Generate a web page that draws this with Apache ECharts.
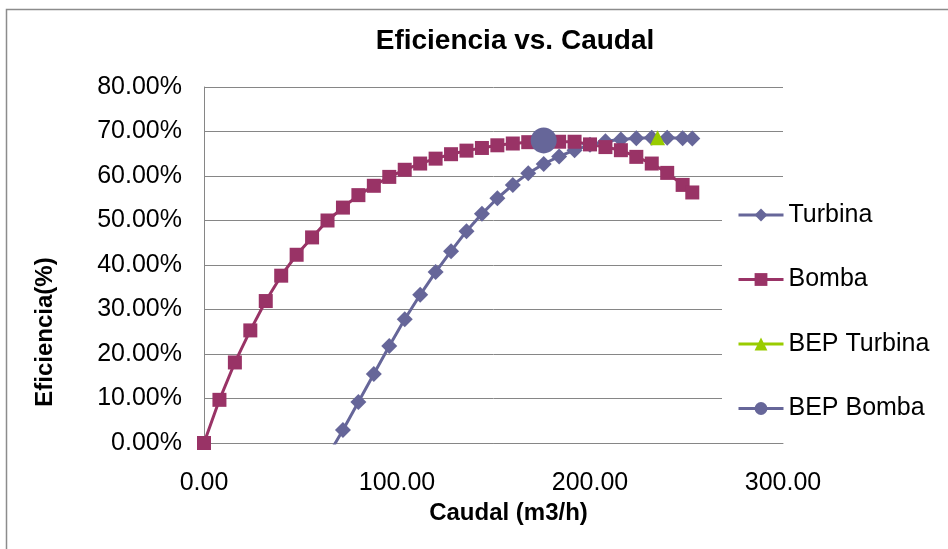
<!DOCTYPE html>
<html><head><meta charset="utf-8">
<script src="https://cdn.jsdelivr.net/npm/echarts@6/dist/echarts.min.js"></script>
<style>html,body{margin:0;padding:0;background:#fff}#c{width:948px;height:549px}</style>
</head><body><div id="c"></div>
<script>
const titleText = 'Eficiencia vs. Caudal';
const xName = 'Caudal (m3/h)';
const yName = 'Eficiencia(%)';
const seriesNames = ['Turbina', 'Bomba', 'BEP Turbina', 'BEP Bomba'];

const turbinaX = [64, 72, 80, 88, 96, 104, 112, 120, 128, 136, 144, 152, 160, 168, 176, 184, 192, 200, 208, 216, 224, 232, 240, 248, 253];
const turbinaY = [-3.0, 2.9, 9.2, 15.5, 21.8, 27.8, 33.3, 38.4, 43.1, 47.6, 51.5, 55.0, 58.0, 60.6, 62.7, 64.4, 65.8, 67.0, 67.8, 68.2, 68.5, 68.6, 68.6, 68.5, 68.4];

const bombaX = [0, 8, 16, 24, 32, 40, 48, 56, 64, 72, 80, 88, 96, 104, 112, 120, 128, 136, 144, 152, 160, 168, 176, 184, 192, 200, 208, 216, 224, 232, 240, 248, 253];
const bombaY = [0, 9.7, 18.1, 25.3, 31.9, 37.6, 42.3, 46.2, 50.0, 52.9, 55.7, 57.8, 59.8, 61.4, 62.8, 63.9, 64.9, 65.7, 66.3, 66.9, 67.3, 67.6, 67.8, 67.7, 67.7, 67.1, 66.5, 65.8, 64.3, 62.8, 60.7, 58.0, 56.3];

const bepTurbinaX = [235];
const bepTurbinaY = [68.6];
const bepBombaX = [176];
const bepBombaY = [68.0];

const FONT = '"Liberation Sans", Arial, sans-serif';
const pair = (xs, ys) => xs.map((x, i) => [x, ys[i]]);

const chart = echarts.init(document.getElementById('c'), null, {renderer: 'canvas'});
chart.setOption({
  animation: false,
  backgroundColor: '#fff',
  textStyle: {fontFamily: FONT},
  graphic: [{
    type: 'rect', left: 4, top: 7, z: -10, silent: true,
    shape: {width: 980, height: 580},
    style: {fill: 'none', stroke: '#8c8c8c', lineWidth: 1.5}
  }],
  title: {
    text: titleText, left: 515, top: 27, textAlign: 'center', padding: 0,
    textStyle: {fontFamily: FONT, fontSize: 28, fontWeight: 'bold', color: '#000'}
  },
  grid: {left: 204, right: 165, top: 87, bottom: 106, containLabel: false},
  legend: {
    orient: 'vertical', left: 722, top: 195,
    padding: [7, 10, 9, 15], backgroundColor: '#fff',
    itemWidth: 45, itemHeight: 16, itemGap: 38.5,
    lineStyle: {width: 3},
    data: seriesNames,
    textStyle: {fontFamily: FONT, fontSize: 25, color: '#000', lineHeight: 26}
  },
  xAxis: {
    type: 'value', min: 0, max: 300, interval: 100,
    axisLine: {show: true, lineStyle: {color: '#868686', width: 1}},
    axisTick: {show: false}, splitLine: {show: false},
    axisLabel: {margin: 28, fontSize: 25, color: '#000', fontFamily: FONT,
      formatter: v => v.toFixed(2)},
    name: xName, nameLocation: 'middle', nameGap: 58,
    nameTextStyle: {fontFamily: FONT, fontSize: 24, fontWeight: 'bold', color: '#000', padding: [0, 0, 0, 30]}
  },
  yAxis: {
    type: 'value', min: 0, max: 80, interval: 10,
    axisLine: {show: true, lineStyle: {color: '#868686', width: 1}},
    axisTick: {show: false},
    splitLine: {show: true, lineStyle: {color: '#868686', width: 1}},
    axisLabel: {margin: 22, fontSize: 25, color: '#000', fontFamily: FONT,
      formatter: v => v.toFixed(2) + '%'},
    name: yName, nameLocation: 'middle', nameGap: 147,
    nameTextStyle: {fontFamily: FONT, fontSize: 24, fontWeight: 'bold', color: '#000', padding: [0, 134, 0, 0]}
  },
  series: [
    {
      name: seriesNames[0], type: 'line', data: pair(turbinaX, turbinaY),
      symbol: 'diamond', symbolSize: 16, clip: true,
      lineStyle: {color: '#666699', width: 3},
      itemStyle: {color: '#666699'}
    },
    {
      name: seriesNames[1], type: 'line', data: pair(bombaX, bombaY),
      symbol: 'rect', symbolSize: 14, clip: true,
      lineStyle: {color: '#993366', width: 3},
      itemStyle: {color: '#993366'}
    },
    {
      name: seriesNames[2], type: 'line', data: pair(bepTurbinaX, bepTurbinaY),
      symbol: 'triangle', symbolSize: 15,
      lineStyle: {color: '#99CC00', width: 3},
      itemStyle: {color: '#99CC00'}
    },
    {
      name: seriesNames[3], type: 'line', data: pair(bepBombaX, bepBombaY),
      symbol: 'circle', symbolSize: 26,
      lineStyle: {color: '#666699', width: 3},
      itemStyle: {color: '#666699'}
    }
  ]
});
</script></body></html>
